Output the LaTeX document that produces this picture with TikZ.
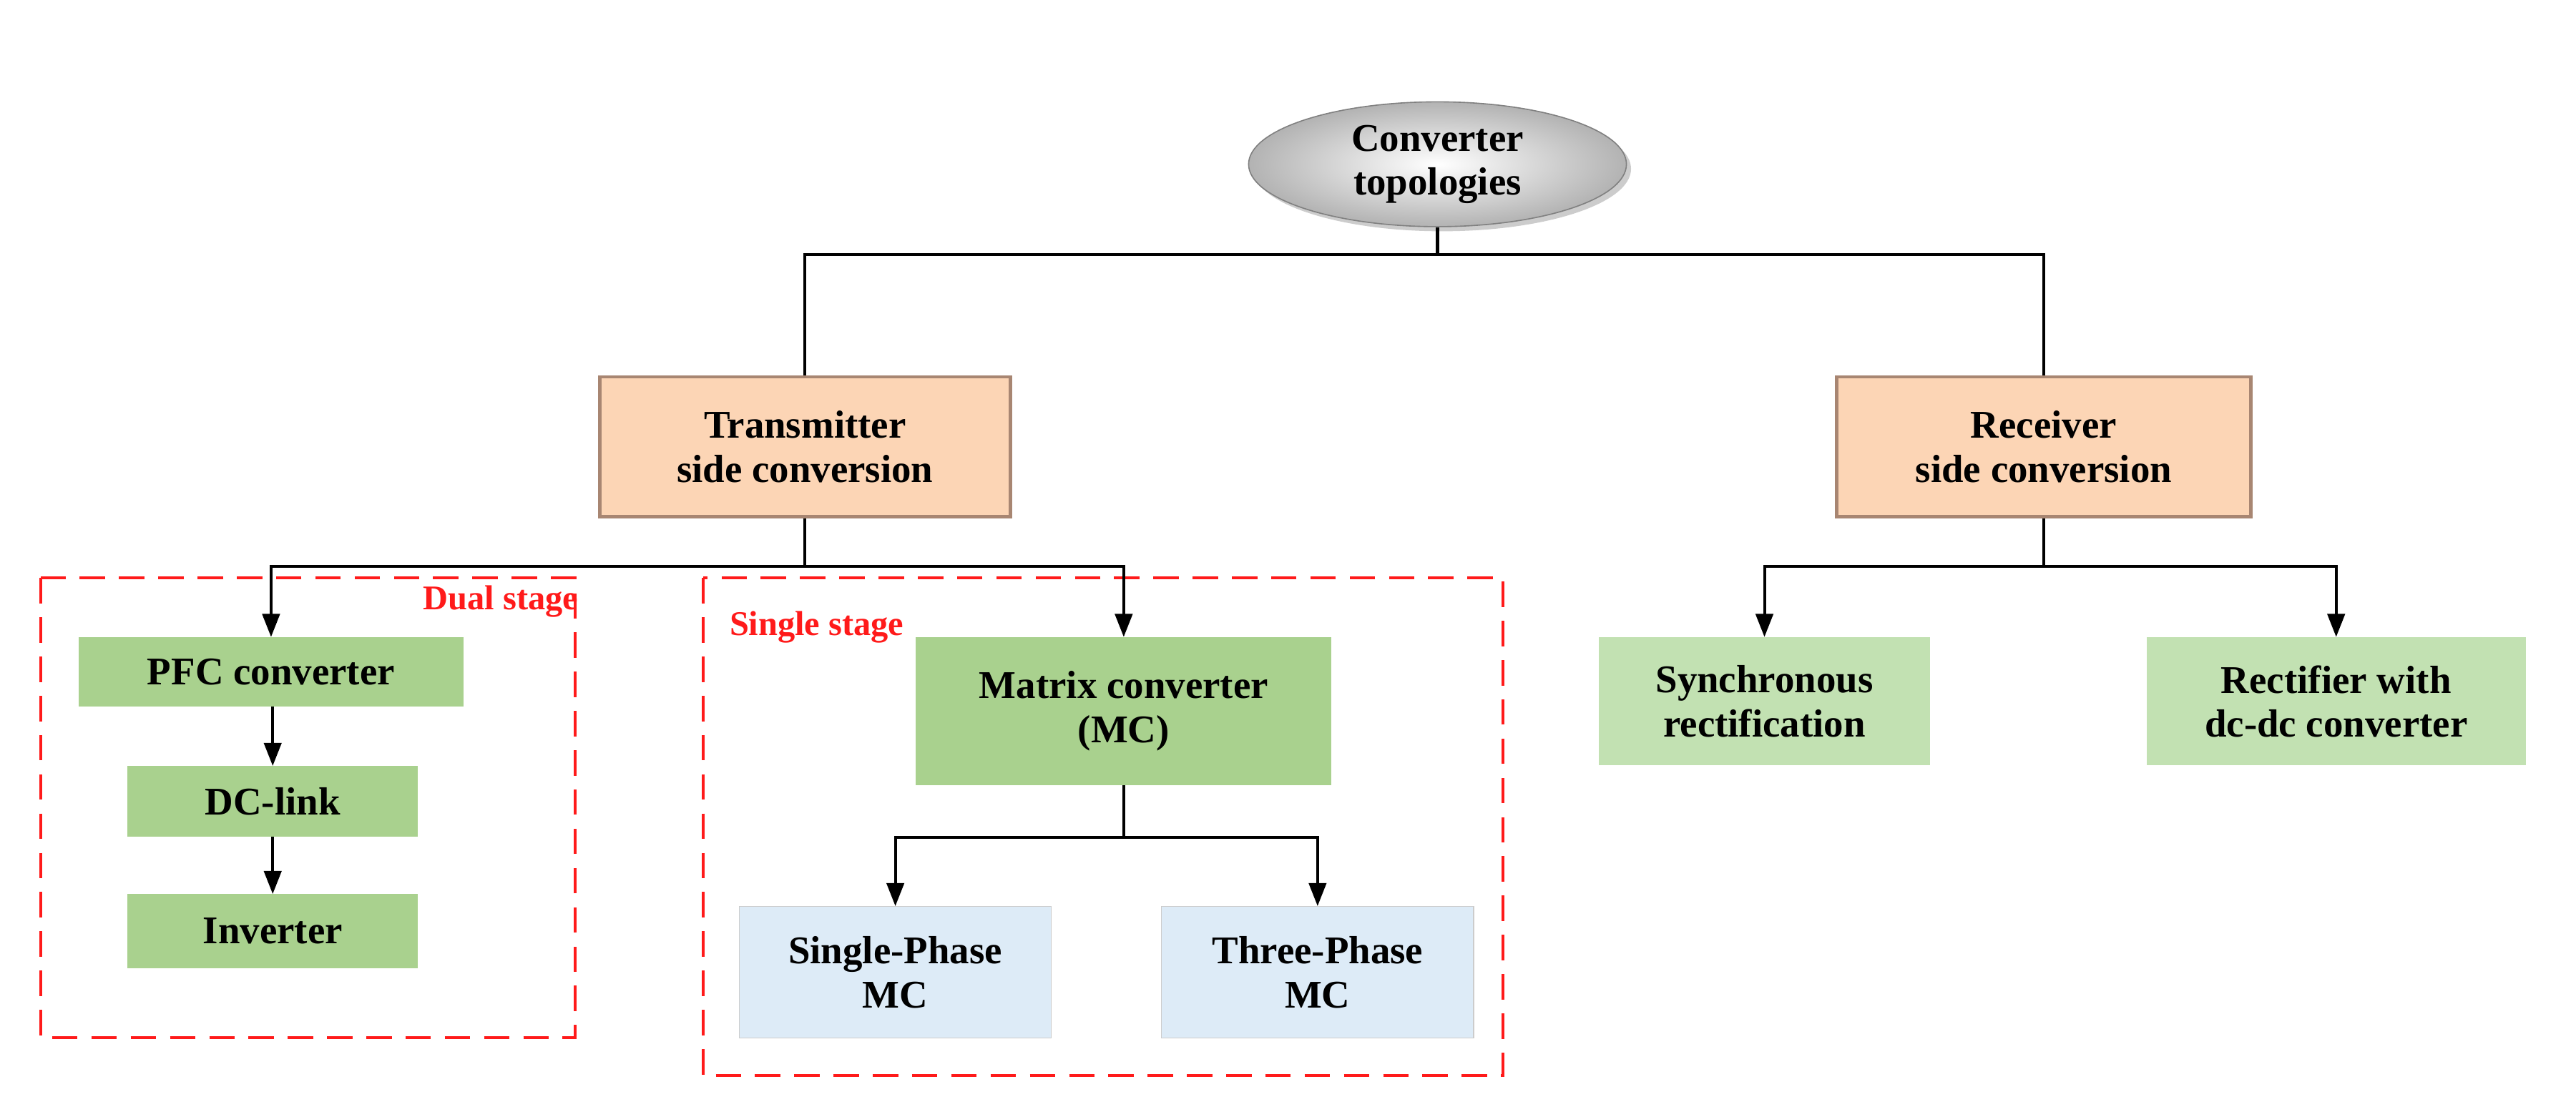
\documentclass[tikz,border=0pt]{standalone}
\usepackage{fontspec}
\setmainfont{Liberation Serif}
\usetikzlibrary{arrows.meta,shadows,shapes.geometric}
\definecolor{peach}{HTML}{FCD5B5}
\definecolor{peachd}{HTML}{A88672}
\definecolor{gr}{HTML}{A9D18E}
\definecolor{grl}{HTML}{B7DCA5}
\definecolor{bl}{HTML}{DDEBF7}
\definecolor{dred}{HTML}{FF1A1A}
\begin{document}
\begin{tikzpicture}[x=0.05cm,y=-0.05cm,
  every node/.style={font=\fontsize{34}{40}\selectfont\bfseries,align=center,inner sep=0},
  bev/.style={draw=peachd,line width=3pt,fill=peach},
  grn/.style={fill=gr},
  grn2/.style={fill=grl!85!white},
  blu/.style={fill=bl,draw=black!20,line width=0.8pt},
  ln/.style={line width=2.5pt},
  ar/.style={ln,-{Triangle[length=20pt,width=15pt]}},
  box/.style={draw=dred,line width=2.5pt,dash pattern=on 22pt off 12pt}]
\useasboundingbox (0,0) rectangle (1568,677);
% root
\node[ellipse, draw=black!50, line width=1pt,
  shading=radial, inner color=white, outer color=black!30,
  drop shadow={shadow xshift=4pt,shadow yshift=-4pt,opacity=0.4},
  minimum width=11.5cm,minimum height=3.8cm] (root) at (875,100) {Converter\\[-2pt]topologies};
\node[bev,minimum width=12.5cm,minimum height=4.25cm] (tx) at (490,272) {Transmitter\\[-2pt]side conversion};
\node[bev,minimum width=12.6cm,minimum height=4.25cm] (rx) at (1244,272) {Receiver\\[-2pt]side conversion};
\node[grn,minimum width=11.7cm,minimum height=2.1cm] (pfc) at (165,409) {PFC converter};
\node[grn,minimum width=8.85cm,minimum height=2.15cm] (dc) at (166,488) {DC-link};
\node[grn,minimum width=8.85cm,minimum height=2.25cm] (inv) at (166,567) {Inverter};
\node[grn,minimum width=12.65cm,minimum height=4.5cm] (mc) at (684,433) {Matrix converter\\[-2pt](MC)};
\node[blu,minimum width=9.5cm,minimum height=4cm] (sp) at (545,592) {Single-Phase\\[-2pt]MC};
\node[blu,minimum width=9.5cm,minimum height=4cm] (tp) at (802,592) {Three-Phase\\[-2pt]MC};
\node[grn2,minimum width=10.1cm,minimum height=3.9cm] (sr) at (1074,427) {Synchronous\\[-2pt]rectification};
\node[grn2,minimum width=11.55cm,minimum height=3.9cm] (rr) at (1422,427) {Rectifier with\\[-2pt]dc-dc converter};
% dashed boxes
\draw[box] (25,352) rectangle (350,632);
\draw[box] (428,352) rectangle (915,655);
\node[text=dred,anchor=east,font=\fontsize{30}{36}\selectfont\bfseries] (dl) at (352,366) {Dual stage};
\node[text=dred,anchor=west,font=\fontsize{30}{36}\selectfont\bfseries] (sl) at (444,382) {Single stage};
% connectors
\coordinate (j0) at (875,155);
\draw[ln] (root.south) -- (j0);
\draw[ln] (tx.north) |- (j0) -| (rx.north);
\coordinate (j1) at (490,345);
\draw[ln] (tx.south) -- (j1);
\draw[ar] (j1) -| (pfc.north);
\draw[ar] (j1) -| (mc.north);
\draw[ar] (pfc.south -| dc.north) -- (dc.north);
\draw[ar] (dc.south) -- (inv.north);
\coordinate (j2) at (684,510);
\draw[ln] (mc.south) -- (j2);
\draw[ar] (j2) -| (sp.north);
\draw[ar] (j2) -| (tp.north);
\coordinate (j3) at (1244,345);
\draw[ln] (rx.south) -- (j3);
\draw[ar] (j3) -| (sr.north);
\draw[ar] (j3) -| (rr.north);
\end{tikzpicture}
\end{document}
